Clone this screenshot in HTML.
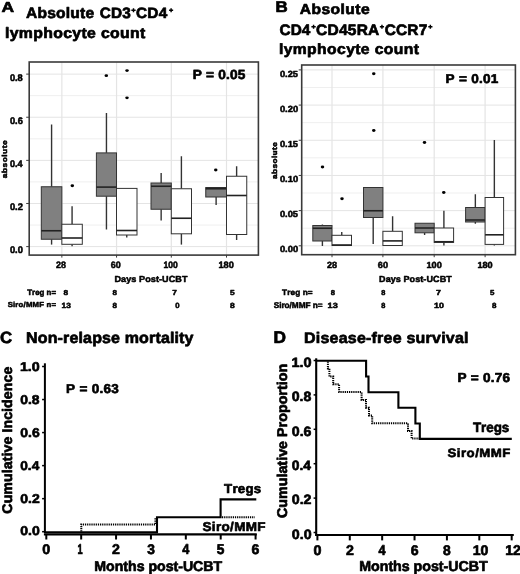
<!DOCTYPE html>
<html><head><meta charset="utf-8"><style>
html,body{margin:0;padding:0;background:#fff;}
body{width:520px;height:574px;overflow:hidden;}
svg{display:block;will-change:transform;}
text{font-family:"Liberation Sans",sans-serif;font-weight:bold;font-kerning:none;text-rendering:geometricPrecision;}
</style></head><body>
<svg width="520" height="574" viewBox="0 0 520 574">
<rect width="520" height="574" fill="#fff"/>
<line x1="29.2" y1="225.04" x2="258.4" y2="225.04" stroke="#efefef" stroke-width="1"/>
<line x1="29.2" y1="181.92" x2="258.4" y2="181.92" stroke="#efefef" stroke-width="1"/>
<line x1="29.2" y1="138.80" x2="258.4" y2="138.80" stroke="#efefef" stroke-width="1"/>
<line x1="29.2" y1="95.68" x2="258.4" y2="95.68" stroke="#efefef" stroke-width="1"/>
<line x1="29.2" y1="246.60" x2="258.4" y2="246.60" stroke="#e4e4e4" stroke-width="1"/>
<line x1="29.2" y1="203.48" x2="258.4" y2="203.48" stroke="#e4e4e4" stroke-width="1"/>
<line x1="29.2" y1="160.36" x2="258.4" y2="160.36" stroke="#e4e4e4" stroke-width="1"/>
<line x1="29.2" y1="117.24" x2="258.4" y2="117.24" stroke="#e4e4e4" stroke-width="1"/>
<line x1="29.2" y1="74.12" x2="258.4" y2="74.12" stroke="#e4e4e4" stroke-width="1"/>
<line x1="61.85" y1="62" x2="61.85" y2="255.1" stroke="#e4e4e4" stroke-width="1.2"/>
<line x1="116.55" y1="62" x2="116.55" y2="255.1" stroke="#e4e4e4" stroke-width="1.2"/>
<line x1="171.3" y1="62" x2="171.3" y2="255.1" stroke="#e4e4e4" stroke-width="1.2"/>
<line x1="226.5" y1="62" x2="226.5" y2="255.1" stroke="#e4e4e4" stroke-width="1.2"/>
<line x1="51.58" y1="124.5" x2="51.58" y2="186.75" stroke="#333" stroke-width="1.4"/>
<line x1="51.58" y1="239.25" x2="51.58" y2="244.6" stroke="#333" stroke-width="1.4"/>
<rect x="41.3" y="186.75" width="20.55" height="52.50" fill="#808080" stroke="#333" stroke-width="1"/>
<line x1="41.3" y1="230.75" x2="61.85" y2="230.75" stroke="#222" stroke-width="1.6"/>
<line x1="72.08" y1="206.25" x2="72.08" y2="224.25" stroke="#333" stroke-width="1.4"/>
<line x1="72.08" y1="244.3" x2="72.08" y2="246.3" stroke="#333" stroke-width="1.4"/>
<rect x="61.85" y="224.25" width="20.45" height="20.05" fill="#fff" stroke="#333" stroke-width="1"/>
<line x1="61.85" y1="238.0" x2="82.3" y2="238.0" stroke="#222" stroke-width="1.6"/>
<line x1="106.45" y1="113.0" x2="106.45" y2="152.9" stroke="#333" stroke-width="1.4"/>
<line x1="106.45" y1="196.2" x2="106.45" y2="229.5" stroke="#333" stroke-width="1.4"/>
<rect x="96.4" y="152.9" width="20.10" height="43.30" fill="#808080" stroke="#333" stroke-width="1"/>
<line x1="96.4" y1="187.1" x2="116.5" y2="187.1" stroke="#222" stroke-width="1.6"/>
<line x1="126.75" y1="235.0" x2="126.75" y2="237.5" stroke="#333" stroke-width="1.4"/>
<rect x="116.5" y="188.4" width="20.50" height="46.60" fill="#fff" stroke="#333" stroke-width="1"/>
<line x1="116.5" y1="230.5" x2="137.0" y2="230.5" stroke="#222" stroke-width="1.6"/>
<line x1="161.15" y1="173.0" x2="161.15" y2="183.0" stroke="#333" stroke-width="1.4"/>
<line x1="161.15" y1="209.25" x2="161.15" y2="220.5" stroke="#333" stroke-width="1.4"/>
<rect x="151.0" y="183.0" width="20.30" height="26.25" fill="#808080" stroke="#333" stroke-width="1"/>
<line x1="151.0" y1="186.25" x2="171.3" y2="186.25" stroke="#222" stroke-width="1.6"/>
<line x1="181.40" y1="156.25" x2="181.40" y2="188.75" stroke="#333" stroke-width="1.4"/>
<line x1="181.40" y1="233.8" x2="181.40" y2="244.6" stroke="#333" stroke-width="1.4"/>
<rect x="171.3" y="188.75" width="20.20" height="45.05" fill="#fff" stroke="#333" stroke-width="1"/>
<line x1="171.3" y1="218.25" x2="191.5" y2="218.25" stroke="#222" stroke-width="1.6"/>
<line x1="216.12" y1="197.0" x2="216.12" y2="205.0" stroke="#333" stroke-width="1.4"/>
<rect x="205.75" y="187.5" width="20.75" height="9.50" fill="#808080" stroke="#333" stroke-width="1"/>
<line x1="205.75" y1="188.75" x2="226.5" y2="188.75" stroke="#222" stroke-width="1.6"/>
<line x1="236.62" y1="166.25" x2="236.62" y2="176.25" stroke="#333" stroke-width="1.4"/>
<line x1="236.62" y1="234.5" x2="236.62" y2="240.0" stroke="#333" stroke-width="1.4"/>
<rect x="226.5" y="176.25" width="20.25" height="58.25" fill="#fff" stroke="#333" stroke-width="1"/>
<line x1="226.5" y1="195.5" x2="246.75" y2="195.5" stroke="#222" stroke-width="1.6"/>
<ellipse cx="72.3" cy="185.75" rx="1.75" ry="1.4" fill="#000"/>
<ellipse cx="106.3" cy="75.7" rx="1.75" ry="1.4" fill="#000"/>
<ellipse cx="127" cy="70.6" rx="1.75" ry="1.4" fill="#000"/>
<ellipse cx="127" cy="97.8" rx="1.75" ry="1.4" fill="#000"/>
<ellipse cx="215.75" cy="170" rx="1.75" ry="1.4" fill="#000"/>
<rect x="29.2" y="62" width="229.20" height="193.10" fill="none" stroke="#3a3a3a" stroke-width="1.6"/>
<line x1="26.2" y1="246.60" x2="29.2" y2="246.60" stroke="#3a3a3a" stroke-width="1"/>
<line x1="26.2" y1="203.48" x2="29.2" y2="203.48" stroke="#3a3a3a" stroke-width="1"/>
<line x1="26.2" y1="160.36" x2="29.2" y2="160.36" stroke="#3a3a3a" stroke-width="1"/>
<line x1="26.2" y1="117.24" x2="29.2" y2="117.24" stroke="#3a3a3a" stroke-width="1"/>
<line x1="26.2" y1="74.12" x2="29.2" y2="74.12" stroke="#3a3a3a" stroke-width="1"/>
<line x1="61.85" y1="255.1" x2="61.85" y2="257.6" stroke="#3a3a3a" stroke-width="1"/>
<line x1="116.55" y1="255.1" x2="116.55" y2="257.6" stroke="#3a3a3a" stroke-width="1"/>
<line x1="171.3" y1="255.1" x2="171.3" y2="257.6" stroke="#3a3a3a" stroke-width="1"/>
<line x1="226.5" y1="255.1" x2="226.5" y2="257.6" stroke="#3a3a3a" stroke-width="1"/>
<line x1="301.7" y1="228.21" x2="515.4" y2="228.21" stroke="#efefef" stroke-width="1"/>
<line x1="301.7" y1="193.03" x2="515.4" y2="193.03" stroke="#efefef" stroke-width="1"/>
<line x1="301.7" y1="157.85" x2="515.4" y2="157.85" stroke="#efefef" stroke-width="1"/>
<line x1="301.7" y1="122.67" x2="515.4" y2="122.67" stroke="#efefef" stroke-width="1"/>
<line x1="301.7" y1="87.49" x2="515.4" y2="87.49" stroke="#efefef" stroke-width="1"/>
<line x1="301.7" y1="245.80" x2="515.4" y2="245.80" stroke="#e4e4e4" stroke-width="1"/>
<line x1="301.7" y1="210.62" x2="515.4" y2="210.62" stroke="#e4e4e4" stroke-width="1"/>
<line x1="301.7" y1="175.44" x2="515.4" y2="175.44" stroke="#e4e4e4" stroke-width="1"/>
<line x1="301.7" y1="140.26" x2="515.4" y2="140.26" stroke="#e4e4e4" stroke-width="1"/>
<line x1="301.7" y1="105.08" x2="515.4" y2="105.08" stroke="#e4e4e4" stroke-width="1"/>
<line x1="301.7" y1="69.90" x2="515.4" y2="69.90" stroke="#e4e4e4" stroke-width="1"/>
<line x1="332.0" y1="65" x2="332.0" y2="254.7" stroke="#e4e4e4" stroke-width="1.2"/>
<line x1="382.9" y1="65" x2="382.9" y2="254.7" stroke="#e4e4e4" stroke-width="1.2"/>
<line x1="434.2" y1="65" x2="434.2" y2="254.7" stroke="#e4e4e4" stroke-width="1.2"/>
<line x1="485.1" y1="65" x2="485.1" y2="254.7" stroke="#e4e4e4" stroke-width="1.2"/>
<line x1="322.40" y1="224.5" x2="322.40" y2="225.5" stroke="#333" stroke-width="1.4"/>
<line x1="322.40" y1="241.0" x2="322.40" y2="246.0" stroke="#333" stroke-width="1.4"/>
<rect x="312.8" y="225.5" width="19.20" height="15.50" fill="#808080" stroke="#333" stroke-width="1"/>
<line x1="312.8" y1="228.25" x2="332.0" y2="228.25" stroke="#222" stroke-width="1.6"/>
<line x1="341.75" y1="232.0" x2="341.75" y2="235.3" stroke="#333" stroke-width="1.4"/>
<rect x="332.0" y="235.3" width="19.50" height="10.20" fill="#fff" stroke="#333" stroke-width="1"/>
<line x1="332.0" y1="245.0" x2="351.5" y2="245.0" stroke="#222" stroke-width="1.6"/>
<line x1="373.20" y1="217.5" x2="373.20" y2="244.1" stroke="#333" stroke-width="1.4"/>
<rect x="363.5" y="187.5" width="19.40" height="30.00" fill="#808080" stroke="#333" stroke-width="1"/>
<line x1="363.5" y1="210.75" x2="382.9" y2="210.75" stroke="#222" stroke-width="1.6"/>
<line x1="392.60" y1="216.25" x2="392.60" y2="231.3" stroke="#333" stroke-width="1.4"/>
<rect x="382.9" y="231.3" width="19.40" height="14.20" fill="#fff" stroke="#333" stroke-width="1"/>
<line x1="382.9" y1="240.9" x2="402.3" y2="240.9" stroke="#222" stroke-width="1.6"/>
<line x1="424.60" y1="232.8" x2="424.60" y2="235.0" stroke="#333" stroke-width="1.4"/>
<rect x="415.0" y="223.25" width="19.20" height="9.55" fill="#808080" stroke="#333" stroke-width="1"/>
<line x1="415.0" y1="228.0" x2="434.2" y2="228.0" stroke="#222" stroke-width="1.6"/>
<line x1="443.90" y1="210.75" x2="443.90" y2="228.0" stroke="#333" stroke-width="1.4"/>
<line x1="443.90" y1="242.4" x2="443.90" y2="245.5" stroke="#333" stroke-width="1.4"/>
<rect x="434.2" y="228.0" width="19.40" height="14.40" fill="#fff" stroke="#333" stroke-width="1"/>
<line x1="434.2" y1="241.75" x2="453.6" y2="241.75" stroke="#222" stroke-width="1.6"/>
<line x1="475.35" y1="194.25" x2="475.35" y2="207.5" stroke="#333" stroke-width="1.4"/>
<line x1="475.35" y1="222.0" x2="475.35" y2="223.75" stroke="#333" stroke-width="1.4"/>
<rect x="465.6" y="207.5" width="19.50" height="14.50" fill="#808080" stroke="#333" stroke-width="1"/>
<line x1="465.6" y1="220.0" x2="485.1" y2="220.0" stroke="#222" stroke-width="1.6"/>
<line x1="494.35" y1="140.0" x2="494.35" y2="197.5" stroke="#333" stroke-width="1.4"/>
<line x1="494.35" y1="244.4" x2="494.35" y2="245.5" stroke="#333" stroke-width="1.4"/>
<rect x="485.1" y="197.5" width="18.50" height="46.90" fill="#fff" stroke="#333" stroke-width="1"/>
<line x1="485.1" y1="234.8" x2="503.6" y2="234.8" stroke="#222" stroke-width="1.6"/>
<ellipse cx="322.5" cy="167" rx="1.75" ry="1.4" fill="#000"/>
<ellipse cx="342" cy="198.75" rx="1.75" ry="1.4" fill="#000"/>
<ellipse cx="373.75" cy="73.75" rx="1.75" ry="1.4" fill="#000"/>
<ellipse cx="373.75" cy="130.5" rx="1.75" ry="1.4" fill="#000"/>
<ellipse cx="424.5" cy="142.5" rx="1.75" ry="1.4" fill="#000"/>
<ellipse cx="443.75" cy="192.5" rx="1.75" ry="1.4" fill="#000"/>
<rect x="301.7" y="65" width="213.70" height="189.70" fill="none" stroke="#3a3a3a" stroke-width="1.6"/>
<line x1="298.7" y1="245.80" x2="301.7" y2="245.80" stroke="#3a3a3a" stroke-width="1"/>
<line x1="298.7" y1="210.62" x2="301.7" y2="210.62" stroke="#3a3a3a" stroke-width="1"/>
<line x1="298.7" y1="175.44" x2="301.7" y2="175.44" stroke="#3a3a3a" stroke-width="1"/>
<line x1="298.7" y1="140.26" x2="301.7" y2="140.26" stroke="#3a3a3a" stroke-width="1"/>
<line x1="298.7" y1="105.08" x2="301.7" y2="105.08" stroke="#3a3a3a" stroke-width="1"/>
<line x1="298.7" y1="69.90" x2="301.7" y2="69.90" stroke="#3a3a3a" stroke-width="1"/>
<line x1="332.0" y1="254.7" x2="332.0" y2="257.2" stroke="#3a3a3a" stroke-width="1"/>
<line x1="382.9" y1="254.7" x2="382.9" y2="257.2" stroke="#3a3a3a" stroke-width="1"/>
<line x1="434.2" y1="254.7" x2="434.2" y2="257.2" stroke="#3a3a3a" stroke-width="1"/>
<line x1="485.1" y1="254.7" x2="485.1" y2="257.2" stroke="#3a3a3a" stroke-width="1"/>
<text transform="matrix(1.21155,0,0,1,1.505,12.260)" font-size="14.419" fill="#000" stroke="#000" stroke-width="0.68" stroke-linejoin="round">A</text>
<text transform="matrix(1.03516,0,0,1,25.951,18.013)" font-size="15.074" fill="#000" letter-spacing="0.206" stroke="#000" stroke-width="0.68" stroke-linejoin="round">Absolute</text>
<text transform="matrix(1.02355,0,0,1,99.812,18.092)" font-size="14.969" fill="#000" letter-spacing="0.221" stroke="#000" stroke-width="0.68" stroke-linejoin="round">CD3</text>
<path d="M131.35,10.20 H135.65 M133.50,8.15 V12.25" stroke="#000" stroke-width="1.45" fill="none"/>
<text transform="matrix(1.03482,0,0,1,135.909,18.215)" font-size="14.859" fill="#000" letter-spacing="0.326" stroke="#000" stroke-width="0.68" stroke-linejoin="round">CD4</text>
<path d="M169.05,10.20 H173.15 M171.10,8.15 V12.25" stroke="#000" stroke-width="1.45" fill="none"/>
<text transform="matrix(1.05980,0,0,1,4.985,37.861)" font-size="14.934" fill="#000" letter-spacing="0.317" stroke="#000" stroke-width="0.68" stroke-linejoin="round">lymphocyte count</text>
<text transform="matrix(1.03624,0,0,1,192.807,78.948)" font-size="13.213" fill="#000" letter-spacing="0.161" stroke="#000" stroke-width="0.65" stroke-linejoin="round">P = 0.05</text>
<text transform="matrix(0.96834,0,0,1,9.899,80.561)" font-size="9.561" fill="#000" stroke="#000" stroke-width="0.53" stroke-linejoin="round">0.8</text>
<text transform="matrix(0.97230,0,0,1,9.898,123.681)" font-size="9.561" fill="#000" stroke="#000" stroke-width="0.53" stroke-linejoin="round">0.6</text>
<text transform="matrix(0.95006,0,0,1,9.906,166.801)" font-size="9.561" fill="#000" stroke="#000" stroke-width="0.53" stroke-linejoin="round">0.4</text>
<text transform="matrix(0.97520,0,0,1,9.897,209.921)" font-size="9.561" fill="#000" stroke="#000" stroke-width="0.53" stroke-linejoin="round">0.2</text>
<text transform="matrix(0.97592,0,0,1,9.896,253.041)" font-size="9.561" fill="#000" stroke="#000" stroke-width="0.53" stroke-linejoin="round">0.0</text>
<text transform="matrix(0,-1.16805,1,0,6.580,178.197)" font-size="7.217" fill="#000" letter-spacing="0.400" stroke="#000" stroke-width="0.50" stroke-linejoin="round">absolute</text>
<text transform="matrix(0.95906,0,0,1,56.102,268.348)" font-size="9.290" fill="#000" stroke="#000" stroke-width="0.52" stroke-linejoin="round">28</text>
<text transform="matrix(0.96517,0,0,1,110.733,268.348)" font-size="9.290" fill="#000" stroke="#000" stroke-width="0.52" stroke-linejoin="round">60</text>
<text transform="matrix(0.92042,0,0,1,163.523,268.348)" font-size="9.290" fill="#000" stroke="#000" stroke-width="0.52" stroke-linejoin="round">100</text>
<text transform="matrix(0.98922,0,0,1,218.482,268.348)" font-size="9.290" fill="#000" stroke="#000" stroke-width="0.52" stroke-linejoin="round">180</text>
<text transform="matrix(1.02629,0,0,1,114.446,281.516)" font-size="8.827" fill="#000" letter-spacing="0.091" stroke="#000" stroke-width="0.50" stroke-linejoin="round">Days Post-UCBT</text>
<text transform="matrix(1.00204,0,0,1,27.261,295.078)" font-size="7.890" fill="#000" letter-spacing="0.006" stroke="#000" stroke-width="0.50" stroke-linejoin="round">Treg n=</text>
<text transform="matrix(1.07144,0,0,1,7.626,307.305)" font-size="7.252" fill="#000" letter-spacing="0.190" stroke="#000" stroke-width="0.50" stroke-linejoin="round">Siro/MMF n=</text>
<text transform="matrix(1.15300,0,0,1,63.586,295.180)" font-size="7.203" fill="#000" stroke="#000" stroke-width="0.50" stroke-linejoin="round">8</text>
<text transform="matrix(1.11082,0,0,1,112.396,295.180)" font-size="7.203" fill="#000" stroke="#000" stroke-width="0.50" stroke-linejoin="round">8</text>
<text transform="matrix(1.13557,0,0,1,172.288,295.250)" font-size="7.413" fill="#000" stroke="#000" stroke-width="0.50" stroke-linejoin="round">7</text>
<text transform="matrix(1.15488,0,0,1,229.890,295.179)" font-size="7.309" fill="#000" stroke="#000" stroke-width="0.50" stroke-linejoin="round">5</text>
<text transform="matrix(1.10982,0,0,1,61.528,308.366)" font-size="7.470" fill="#000" stroke="#000" stroke-width="0.50" stroke-linejoin="round">13</text>
<text transform="matrix(1.06890,0,0,1,112.396,308.377)" font-size="7.486" fill="#000" stroke="#000" stroke-width="0.50" stroke-linejoin="round">8</text>
<text transform="matrix(1.03929,0,0,1,175.342,308.377)" font-size="7.486" fill="#000" stroke="#000" stroke-width="0.50" stroke-linejoin="round">0</text>
<text transform="matrix(1.13655,0,0,1,229.880,308.377)" font-size="7.486" fill="#000" stroke="#000" stroke-width="0.50" stroke-linejoin="round">8</text>
<text transform="matrix(1.08601,0,0,1,275.608,11.960)" font-size="15.582" fill="#000" stroke="#000" stroke-width="0.68" stroke-linejoin="round">B</text>
<text transform="matrix(1.07977,0,0,1,299.651,14.219)" font-size="14.461" fill="#000" letter-spacing="0.429" stroke="#000" stroke-width="0.68" stroke-linejoin="round">Absolute</text>
<text transform="matrix(1.01486,0,0,1,279.410,34.512)" font-size="15.141" fill="#000" letter-spacing="0.144" stroke="#000" stroke-width="0.68" stroke-linejoin="round">CD4</text>
<path d="M311.40,26.75 H315.75 M313.57,24.75 V28.75" stroke="#000" stroke-width="1.45" fill="none"/>
<text transform="matrix(1.02782,0,0,1,316.002,34.512)" font-size="15.141" fill="#000" letter-spacing="0.215" stroke="#000" stroke-width="0.68" stroke-linejoin="round">CD45RA</text>
<path d="M379.85,26.70 H384.05 M381.95,24.65 V28.75" stroke="#000" stroke-width="1.45" fill="none"/>
<text transform="matrix(1.02077,0,0,1,384.706,34.512)" font-size="15.141" fill="#000" letter-spacing="0.181" stroke="#000" stroke-width="0.68" stroke-linejoin="round">CCR7</text>
<path d="M428.25,26.70 H432.45 M430.35,24.65 V28.75" stroke="#000" stroke-width="1.45" fill="none"/>
<text transform="matrix(1.06774,0,0,1,278.943,53.906)" font-size="14.719" fill="#000" letter-spacing="0.352" stroke="#000" stroke-width="0.68" stroke-linejoin="round">lymphocyte count</text>
<text transform="matrix(1.06041,0,0,1,445.558,82.759)" font-size="12.807" fill="#000" letter-spacing="0.254" stroke="#000" stroke-width="0.63" stroke-linejoin="round">P = 0.01</text>
<text transform="matrix(1.04775,0,0,1,279.887,76.558)" font-size="8.885" fill="#000" stroke="#000" stroke-width="0.51" stroke-linejoin="round">0.25</text>
<text transform="matrix(1.05515,0,0,1,279.884,111.738)" font-size="8.885" fill="#000" stroke="#000" stroke-width="0.51" stroke-linejoin="round">0.20</text>
<text transform="matrix(1.04775,0,0,1,279.887,146.918)" font-size="8.885" fill="#000" stroke="#000" stroke-width="0.51" stroke-linejoin="round">0.15</text>
<text transform="matrix(1.05515,0,0,1,279.884,182.098)" font-size="8.885" fill="#000" stroke="#000" stroke-width="0.51" stroke-linejoin="round">0.10</text>
<text transform="matrix(1.04775,0,0,1,279.887,217.278)" font-size="8.885" fill="#000" stroke="#000" stroke-width="0.51" stroke-linejoin="round">0.05</text>
<text transform="matrix(1.05515,0,0,1,279.884,252.458)" font-size="8.885" fill="#000" stroke="#000" stroke-width="0.51" stroke-linejoin="round">0.00</text>
<text transform="matrix(0,-1.14546,1,0,276.680,178.992)" font-size="7.217" fill="#000" letter-spacing="0.353" stroke="#000" stroke-width="0.50" stroke-linejoin="round">absolute</text>
<text transform="matrix(1.02035,0,0,1,326.941,267.758)" font-size="8.885" fill="#000" stroke="#000" stroke-width="0.51" stroke-linejoin="round">28</text>
<text transform="matrix(1.03239,0,0,1,377.819,267.758)" font-size="8.885" fill="#000" stroke="#000" stroke-width="0.51" stroke-linejoin="round">60</text>
<text transform="matrix(1.02812,0,0,1,426.479,267.758)" font-size="8.885" fill="#000" stroke="#000" stroke-width="0.51" stroke-linejoin="round">100</text>
<text transform="matrix(1.02812,0,0,1,477.379,267.758)" font-size="8.885" fill="#000" stroke="#000" stroke-width="0.51" stroke-linejoin="round">180</text>
<text transform="matrix(1.02284,0,0,1,379.048,281.616)" font-size="8.827" fill="#000" letter-spacing="0.080" stroke="#000" stroke-width="0.50" stroke-linejoin="round">Days Post-UCBT</text>
<text transform="matrix(1.04020,0,0,1,282.058,295.178)" font-size="7.890" fill="#000" letter-spacing="0.122" stroke="#000" stroke-width="0.50" stroke-linejoin="round">Treg n=</text>
<text transform="matrix(0.99152,0,0,1,273.662,308.183)" font-size="8.326" fill="#000" letter-spacing="-0.028" stroke="#000" stroke-width="0.50" stroke-linejoin="round">Siro/MMF n=</text>
<text transform="matrix(1.05458,0,0,1,330.659,295.180)" font-size="7.203" fill="#000" stroke="#000" stroke-width="0.50" stroke-linejoin="round">8</text>
<text transform="matrix(1.02645,0,0,1,381.165,295.180)" font-size="7.203" fill="#000" stroke="#000" stroke-width="0.50" stroke-linejoin="round">8</text>
<text transform="matrix(1.20744,0,0,1,436.015,295.250)" font-size="7.413" fill="#000" stroke="#000" stroke-width="0.50" stroke-linejoin="round">7</text>
<text transform="matrix(1.08614,0,0,1,489.906,295.179)" font-size="7.309" fill="#000" stroke="#000" stroke-width="0.50" stroke-linejoin="round">5</text>
<text transform="matrix(1.21551,0,0,1,327.578,308.466)" font-size="7.470" fill="#000" stroke="#000" stroke-width="0.50" stroke-linejoin="round">13</text>
<text transform="matrix(0.98772,0,0,1,381.165,308.477)" font-size="7.486" fill="#000" stroke="#000" stroke-width="0.50" stroke-linejoin="round">8</text>
<text transform="matrix(1.18576,0,0,1,434.091,308.477)" font-size="7.486" fill="#000" stroke="#000" stroke-width="0.50" stroke-linejoin="round">10</text>
<text transform="matrix(1.06890,0,0,1,491.896,308.477)" font-size="7.486" fill="#000" stroke="#000" stroke-width="0.50" stroke-linejoin="round">8</text>
<text transform="matrix(1.03590,0,0,1,0.049,343.001)" font-size="16.271" fill="#000" stroke="#000" stroke-width="0.68" stroke-linejoin="round">C</text>
<text transform="matrix(1.02795,0,0,1,26.069,342.627)" font-size="15.577" fill="#000" letter-spacing="0.144" stroke="#000" stroke-width="0.68" stroke-linejoin="round">Non-relapse mortality</text>
<line x1="44.9" y1="363.3" x2="44.9" y2="533" stroke="#000" stroke-width="2"/>
<line x1="43.9" y1="534.4" x2="256.8" y2="534.4" stroke="#000" stroke-width="2.1"/>
<line x1="42.1" y1="531.70" x2="45" y2="531.70" stroke="#000" stroke-width="1.5"/>
<line x1="42.1" y1="498.66" x2="45" y2="498.66" stroke="#000" stroke-width="1.5"/>
<line x1="42.1" y1="465.62" x2="45" y2="465.62" stroke="#000" stroke-width="1.5"/>
<line x1="42.1" y1="432.58" x2="45" y2="432.58" stroke="#000" stroke-width="1.5"/>
<line x1="42.1" y1="399.54" x2="45" y2="399.54" stroke="#000" stroke-width="1.5"/>
<line x1="42.1" y1="366.50" x2="45" y2="366.50" stroke="#000" stroke-width="1.5"/>
<line x1="46.30" y1="534" x2="46.30" y2="539.5" stroke="#000" stroke-width="2"/>
<line x1="81.18" y1="534" x2="81.18" y2="539.5" stroke="#000" stroke-width="2"/>
<line x1="116.06" y1="534" x2="116.06" y2="539.5" stroke="#000" stroke-width="2"/>
<line x1="150.94" y1="534" x2="150.94" y2="539.5" stroke="#000" stroke-width="2"/>
<line x1="185.82" y1="534" x2="185.82" y2="539.5" stroke="#000" stroke-width="2"/>
<line x1="220.70" y1="534" x2="220.70" y2="539.5" stroke="#000" stroke-width="2"/>
<line x1="255.58" y1="534" x2="255.58" y2="539.5" stroke="#000" stroke-width="2"/>
<text transform="matrix(1.12727,0,0,1,19.914,370.562)" font-size="12.672" fill="#000" stroke="#000" stroke-width="0.63" stroke-linejoin="round">1.0</text>
<text transform="matrix(1.09849,0,0,1,20.264,403.602)" font-size="12.672" fill="#000" stroke="#000" stroke-width="0.63" stroke-linejoin="round">0.8</text>
<text transform="matrix(1.10298,0,0,1,20.261,436.642)" font-size="12.672" fill="#000" stroke="#000" stroke-width="0.63" stroke-linejoin="round">0.6</text>
<text transform="matrix(1.07776,0,0,1,20.274,469.682)" font-size="12.672" fill="#000" stroke="#000" stroke-width="0.63" stroke-linejoin="round">0.4</text>
<text transform="matrix(1.10627,0,0,1,20.260,502.722)" font-size="12.672" fill="#000" stroke="#000" stroke-width="0.63" stroke-linejoin="round">0.2</text>
<text transform="matrix(1.10709,0,0,1,20.259,534.562)" font-size="12.672" fill="#000" stroke="#000" stroke-width="0.63" stroke-linejoin="round">0.0</text>
<text transform="matrix(1.03454,0,0,1,42.265,553.631)" font-size="13.889" fill="#000" stroke="#000" stroke-width="0.67" stroke-linejoin="round">0</text>
<text transform="matrix(0.65049,0,0,1,77.435,553.760)" font-size="14.275" fill="#000" stroke="#000" stroke-width="0.68" stroke-linejoin="round">1</text>
<text transform="matrix(1.00757,0,0,1,112.105,553.764)" font-size="14.075" fill="#000" stroke="#000" stroke-width="0.67" stroke-linejoin="round">2</text>
<text transform="matrix(0.99191,0,0,1,147.157,553.612)" font-size="13.862" fill="#000" stroke="#000" stroke-width="0.67" stroke-linejoin="round">3</text>
<text transform="matrix(0.89206,0,0,1,182.167,553.760)" font-size="14.275" fill="#000" stroke="#000" stroke-width="0.68" stroke-linejoin="round">4</text>
<text transform="matrix(0.97425,0,0,1,216.814,553.626)" font-size="14.084" fill="#000" stroke="#000" stroke-width="0.67" stroke-linejoin="round">5</text>
<text transform="matrix(1.01782,0,0,1,251.596,553.631)" font-size="13.889" fill="#000" stroke="#000" stroke-width="0.67" stroke-linejoin="round">6</text>
<text transform="matrix(0.99735,0,0,1,94.289,570.819)" font-size="14.192" fill="#000" letter-spacing="-0.015" stroke="#000" stroke-width="0.67" stroke-linejoin="round">Months post-UCBT</text>
<text transform="matrix(0,-1.01615,1,0,12.430,513.647)" font-size="13.934" fill="#000" letter-spacing="0.079" stroke="#000" stroke-width="0.67" stroke-linejoin="round">Cumulative Incidence</text>
<text transform="matrix(1.06066,0,0,1,66.109,393.341)" font-size="12.782" fill="#000" letter-spacing="0.254" stroke="#000" stroke-width="0.63" stroke-linejoin="round">P = 0.63</text>
<text transform="matrix(1.03722,0,0,1,224.065,493.060)" font-size="12.857" fill="#000" letter-spacing="0.205" stroke="#000" stroke-width="0.63" stroke-linejoin="round">Tregs</text>
<text transform="matrix(1.06141,0,0,1,202.525,530.831)" font-size="12.719" fill="#000" letter-spacing="0.311" stroke="#000" stroke-width="0.63" stroke-linejoin="round">Siro/MMF</text>
<path d="M44.9,532.2 H157 V517.2 H220.6 V499.4 H256.3" fill="none" stroke="#000" stroke-width="2.1"/>
<path d="M81.3,531.5 V524.4 H155.4 V517.4 M222,517.2 H254.8" fill="none" stroke="#000" stroke-width="2" stroke-dasharray="1.25 0.9"/>
<text transform="matrix(1.01653,0,0,1,273.382,343.360)" font-size="17.035" fill="#000" stroke="#000" stroke-width="0.68" stroke-linejoin="round">D</text>
<text transform="matrix(1.04634,0,0,1,303.971,343.111)" font-size="15.278" fill="#000" letter-spacing="0.223" stroke="#000" stroke-width="0.68" stroke-linejoin="round">Disease-free survival</text>
<line x1="316.2" y1="358.3" x2="316.2" y2="536" stroke="#000" stroke-width="2.1"/>
<line x1="315.2" y1="535" x2="513.8" y2="535" stroke="#000" stroke-width="2"/>
<line x1="313.6" y1="532.50" x2="316.3" y2="532.50" stroke="#000" stroke-width="1.5"/>
<line x1="313.6" y1="498.10" x2="316.3" y2="498.10" stroke="#000" stroke-width="1.5"/>
<line x1="313.6" y1="463.70" x2="316.3" y2="463.70" stroke="#000" stroke-width="1.5"/>
<line x1="313.6" y1="429.30" x2="316.3" y2="429.30" stroke="#000" stroke-width="1.5"/>
<line x1="313.6" y1="394.90" x2="316.3" y2="394.90" stroke="#000" stroke-width="1.5"/>
<line x1="313.6" y1="360.50" x2="316.3" y2="360.50" stroke="#000" stroke-width="1.5"/>
<line x1="317.40" y1="535" x2="317.40" y2="540.4" stroke="#000" stroke-width="2"/>
<line x1="349.78" y1="535" x2="349.78" y2="540.4" stroke="#000" stroke-width="2"/>
<line x1="382.16" y1="535" x2="382.16" y2="540.4" stroke="#000" stroke-width="2"/>
<line x1="414.54" y1="535" x2="414.54" y2="540.4" stroke="#000" stroke-width="2"/>
<line x1="446.92" y1="535" x2="446.92" y2="540.4" stroke="#000" stroke-width="2"/>
<line x1="479.30" y1="535" x2="479.30" y2="540.4" stroke="#000" stroke-width="2"/>
<line x1="511.68" y1="535" x2="511.68" y2="540.4" stroke="#000" stroke-width="2"/>
<text transform="matrix(1.07525,0,0,1,291.414,366.841)" font-size="13.483" fill="#000" stroke="#000" stroke-width="0.65" stroke-linejoin="round">1.0</text>
<text transform="matrix(1.04780,0,0,1,291.768,401.241)" font-size="13.483" fill="#000" stroke="#000" stroke-width="0.65" stroke-linejoin="round">0.8</text>
<text transform="matrix(1.05209,0,0,1,291.766,435.641)" font-size="13.483" fill="#000" stroke="#000" stroke-width="0.65" stroke-linejoin="round">0.6</text>
<text transform="matrix(1.02803,0,0,1,291.779,470.041)" font-size="13.483" fill="#000" stroke="#000" stroke-width="0.65" stroke-linejoin="round">0.4</text>
<text transform="matrix(1.05522,0,0,1,291.764,504.441)" font-size="13.483" fill="#000" stroke="#000" stroke-width="0.65" stroke-linejoin="round">0.2</text>
<text transform="matrix(1.05601,0,0,1,291.764,538.841)" font-size="13.483" fill="#000" stroke="#000" stroke-width="0.65" stroke-linejoin="round">0.0</text>
<text transform="matrix(1.03454,0,0,1,313.465,554.931)" font-size="13.889" fill="#000" stroke="#000" stroke-width="0.67" stroke-linejoin="round">0</text>
<text transform="matrix(1.00757,0,0,1,345.925,555.064)" font-size="14.075" fill="#000" stroke="#000" stroke-width="0.67" stroke-linejoin="round">2</text>
<text transform="matrix(0.89206,0,0,1,378.607,555.060)" font-size="14.275" fill="#000" stroke="#000" stroke-width="0.68" stroke-linejoin="round">4</text>
<text transform="matrix(1.01782,0,0,1,410.656,554.931)" font-size="13.889" fill="#000" stroke="#000" stroke-width="0.67" stroke-linejoin="round">6</text>
<text transform="matrix(0.99667,0,0,1,443.114,554.931)" font-size="13.889" fill="#000" stroke="#000" stroke-width="0.67" stroke-linejoin="round">8</text>
<text transform="matrix(1.01637,0,0,1,472.744,554.931)" font-size="13.889" fill="#000" stroke="#000" stroke-width="0.67" stroke-linejoin="round">10</text>
<text transform="matrix(1.00157,0,0,1,505.128,555.064)" font-size="14.075" fill="#000" stroke="#000" stroke-width="0.67" stroke-linejoin="round">12</text>
<text transform="matrix(0.99534,0,0,1,359.285,570.896)" font-size="14.296" fill="#000" letter-spacing="-0.027" stroke="#000" stroke-width="0.67" stroke-linejoin="round">Months post-UCBT</text>
<text transform="matrix(0,-1.00971,1,0,286.643,518.050)" font-size="14.088" fill="#000" letter-spacing="0.048" stroke="#000" stroke-width="0.67" stroke-linejoin="round">Cumulative Proportion</text>
<text transform="matrix(1.04986,0,0,1,457.509,381.755)" font-size="12.942" fill="#000" letter-spacing="0.214" stroke="#000" stroke-width="0.64" stroke-linejoin="round">P = 0.76</text>
<text transform="matrix(0.98843,0,0,1,472.976,431.589)" font-size="13.609" fill="#000" letter-spacing="-0.071" stroke="#000" stroke-width="0.65" stroke-linejoin="round">Tregs</text>
<text transform="matrix(1.09694,0,0,1,447.423,457.254)" font-size="12.075" fill="#000" letter-spacing="0.451" stroke="#000" stroke-width="0.61" stroke-linejoin="round">Siro/MMF</text>
<path d="M316.2,360.7 H366.1 V376.5 H368.5 V392.2 H398.4 V407.8 H415.4 V423.5 H419.8 V438.9 H511.8" fill="none" stroke="#000" stroke-width="2.1"/>
<path d="M327.9,361.6 V368.6 H329.4 V376.4 H333.2 V384.3 H339.1 V392.1 H361.6 V399.9 H366 V407.7 H369 V415.5 H372.2 V423.3 H408 V431 H411.6 V438.6 H419" fill="none" stroke="#000" stroke-width="2" stroke-dasharray="1.25 0.9"/>
</svg>
</body></html>
